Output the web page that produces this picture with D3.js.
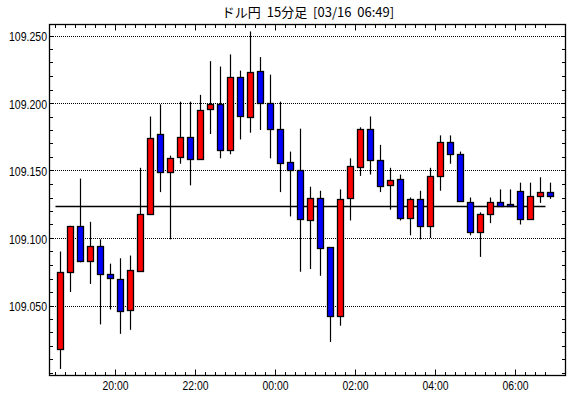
<!DOCTYPE html>
<html>
<head>
<meta charset="utf-8">
<script src="https://cdn.jsdelivr.net/npm/d3@7/dist/d3.min.js"></script>
<style>
body { margin: 0; background: #fff; }
svg { display: block; }
</style>
</head>
<body>
<svg width="570" height="398"></svg>
<script>
// 15-minute candles, 03/15 18:30 -> 03/16 06:45
const startTime = new Date(2021, 2, 15, 18, 30)
const opens = [109.018, 109.075, 109.109, 109.083, 109.094, 109.073, 109.070, 109.046, 109.076, 109.118,
    109.177, 109.149, 109.160, 109.175, 109.159, 109.195, 109.199, 109.165, 109.219, 109.190,
    109.224, 109.200, 109.181, 109.156, 109.150, 109.114, 109.130, 109.093, 109.042, 109.129,
    109.153, 109.181, 109.158, 109.139, 109.144, 109.115, 109.129, 109.109, 109.146, 109.171,
    109.162, 109.127, 109.105, 109.118, 109.127, 109.125, 109.135, 109.114, 109.131, 109.134]
const highs = [109.090, 109.109, 109.144, 109.112, 109.099, 109.081, 109.085, 109.087, 109.152, 109.190,
    109.199, 109.161, 109.201, 109.201, 109.206, 109.231, 109.227, 109.236, 109.224, 109.253,
    109.234, 109.221, 109.201, 109.164, 109.181, 109.138, 109.135, 109.093, 109.136, 109.159,
    109.182, 109.190, 109.169, 109.152, 109.147, 109.130, 109.135, 109.152, 109.176, 109.176,
    109.164, 109.130, 109.119, 109.130, 109.136, 109.136, 109.141, 109.141, 109.145, 109.141]
const lows = [109.003, 109.060, 109.082, 109.066, 109.036, 109.047, 109.029, 109.032, 109.076, 109.117,
    109.134, 109.099, 109.155, 109.139, 109.158, 109.177, 109.159, 109.162, 109.173, 109.178,
    109.180, 109.159, 109.134, 109.116, 109.075, 109.077, 109.072, 109.023, 109.035, 109.113,
    109.146, 109.147, 109.134, 109.121, 109.113, 109.102, 109.099, 109.100, 109.135, 109.155,
    109.127, 109.102, 109.086, 109.111, 109.124, 109.124, 109.110, 109.114, 109.126, 109.129]
const closes = [109.075, 109.109, 109.083, 109.094, 109.073, 109.070, 109.046, 109.076, 109.118, 109.174,
    109.149, 109.159, 109.175, 109.159, 109.195, 109.199, 109.165, 109.219, 109.190, 109.223,
    109.200, 109.181, 109.156, 109.150, 109.114, 109.130, 109.093, 109.042, 109.129, 109.153,
    109.181, 109.158, 109.139, 109.143, 109.115, 109.129, 109.109, 109.146, 109.171, 109.162,
    109.127, 109.105, 109.118, 109.127, 109.124, 109.124, 109.114, 109.131, 109.134, 109.131]
const refPrice = 109.124
const gridValues = [109.050, 109.100, 109.150, 109.200, 109.250]
const tickLabels = ["109.050", "109.100", "109.150", "109.200", "109.250"]
const timeLabels = ["20:00", "22:00", "00:00", "02:00", "04:00", "06:00"]
const title = "ドル円 15分足 [03/16 06:49]"

const svg = d3.select("svg"),
    width = +svg.attr("width"),
    height = +svg.attr("height")

const frame = {left: 49.5, right: 565.5, top: 24.5, bottom: 375.5}
const slot = 15 * 60 * 1000

const candles = opens.map((o, i) => ({
    t: new Date(+startTime + i * slot),
    o: o, h: highs[i], l: lows[i], c: closes[i]
}))

const x = d3.scaleTime()
    .domain([startTime, new Date(+startTime + 50 * slot)])
    .range([55.5, 555.5])
const y = d3.scaleLinear()
    .domain([109.05, 109.25])
    .range([305.5, 35.5])

const fmt = d3.timeFormat("%H:%M")
const slotTimes = candles.map(d => d.t)
const yTicks = d3.range(0, 26).map(i => 109 + i * 0.01)
const py = v => Math.round(y(v)) + 0.5

// dotted grid
svg.append("g")
    .attr("shape-rendering", "crispEdges")
    .selectAll("line")
    .data(gridValues)
    .enter()
    .append("line")
    .attr("x1", 51).attr("x2", 565)
    .attr("y1", py).attr("y2", py)
    .attr("stroke", "#000")
    .attr("stroke-dasharray", "1,1")

svg.append("line")
    .attr("x1", x(slotTimes[0])).attr("x2", x(slotTimes[slotTimes.length - 1]))
    .attr("y1", py(refPrice)).attr("y2", py(refPrice))
    .attr("stroke", "#000")
    .attr("stroke-width", 1.3)

// candles
const candle = svg.append("g").selectAll(".candle")
    .data(candles)
    .enter()
    .append("g")
    .attr("class", "candle")

candle.append("line")
    .attr("x1", d => x(d.t) + 5).attr("x2", d => x(d.t) + 5)
    .attr("y1", d => y(d.h)).attr("y2", d => y(d.l))
    .attr("stroke", "#000")
    .attr("stroke-width", 1.2)

candle.append("rect")
    .attr("x", d => x(d.t) + 2)
    .attr("width", 6)
    .attr("y", d => py(Math.max(d.o, d.c)))
    .attr("height", d => Math.max(2, Math.round(Math.abs(y(d.o) - y(d.c)))))
    .attr("fill", d => d.c >= d.o ? "#ff0000" : "#0000ff")
    .attr("stroke", "#000")
    .attr("stroke-width", 1.3)

// frame
svg.append("rect")
    .attr("x", frame.left).attr("y", frame.top)
    .attr("width", frame.right - frame.left)
    .attr("height", frame.bottom - frame.top)
    .attr("fill", "none")
    .attr("stroke", "#000")
    .attr("stroke-width", 1.3)

// y ticks both sides
const yt = svg.append("g")
yt.selectAll(".yl")
    .data(yTicks)
    .enter()
    .append("line")
    .attr("x1", frame.left).attr("x2", frame.left + 3.5)
    .attr("y1", py).attr("y2", py)
    .attr("stroke", "#000")
yt.selectAll(".yr")
    .data(yTicks)
    .enter()
    .append("line")
    .attr("x1", frame.right - 3.5).attr("x2", frame.right)
    .attr("y1", py).attr("y2", py)
    .attr("stroke", "#000")

// time ticks top and bottom
const isMajor = d => d.getMinutes() === 0 && d.getHours() % 2 === 0
const xt = svg.append("g")
xt.selectAll(".xt")
    .data(slotTimes)
    .enter()
    .append("line")
    .attr("x1", d => x(d)).attr("x2", d => x(d))
    .attr("y1", frame.top).attr("y2", d => frame.top + (isMajor(d) ? 6 : 3.5))
    .attr("stroke", "#000")
xt.selectAll(".xb")
    .data(slotTimes)
    .enter()
    .append("line")
    .attr("x1", d => x(d)).attr("x2", d => x(d))
    .attr("y1", frame.bottom).attr("y2", d => frame.bottom - (isMajor(d) ? 6 : 3.5))
    .attr("stroke", "#000")

// labels
const labelFont = "'Liberation Sans', Arial, sans-serif"
svg.append("g").selectAll("text")
    .data(gridValues)
    .enter()
    .append("text")
    .attr("x", 47)
    .attr("y", d => y(d) + 5.5)
    .attr("text-anchor", "end")
    .attr("textLength", 38)
    .attr("lengthAdjust", "spacingAndGlyphs")
    .style("font-family", labelFont)
    .style("font-size", "12px")
    .text((d, i) => tickLabels[i])

svg.append("g").selectAll("text")
    .data(slotTimes.filter(d => isMajor(d) && timeLabels.includes(fmt(d))))
    .enter()
    .append("text")
    .attr("x", d => x(d) - 13)
    .attr("y", 390)
    .attr("textLength", 26)
    .attr("lengthAdjust", "spacingAndGlyphs")
    .style("font-family", labelFont)
    .style("font-size", "12px")
    .text(d => fmt(d))

svg.append("text")
    .attr("x", 308)
    .attr("y", 17)
    .attr("text-anchor", "middle")
    .style("font-family", "'Noto Sans CJK JP', sans-serif")
    .style("font-size", "13px")
    .style("word-spacing", "3px")
    .text(title)
</script>
</body>
</html>
